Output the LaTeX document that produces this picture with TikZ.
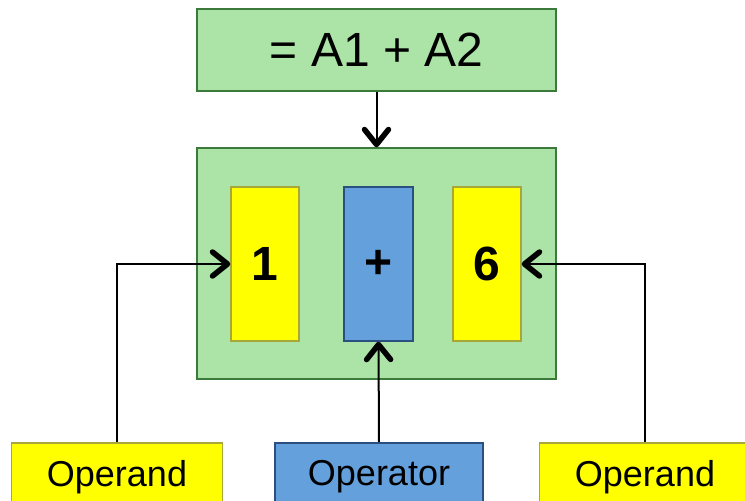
\documentclass[tikz,border=0pt]{standalone}
\usepackage{fontspec}
\setmainfont{Liberation Sans}
\usetikzlibrary{arrows.meta}
\definecolor{gfill}{HTML}{ACE3A6}
\definecolor{gline}{HTML}{3C7A3C}
\definecolor{yfill}{HTML}{FFFF00}
\definecolor{yline}{HTML}{A8A838}
\definecolor{bfill}{HTML}{64A0DC}
\definecolor{bline}{HTML}{2A4F80}
\tikzset{
  greenbox/.style={draw=gline, fill=gfill, line width=1.5pt, inner sep=0pt},
  yellowbox/.style={draw=yline, fill=yfill, line width=1.5pt, inner sep=0pt},
  bluebox/.style={draw=bline, fill=bfill, line width=1.5pt, inner sep=0pt},
  cell/.style={minimum width=68pt, minimum height=154pt, font=\fontsize{48}{48}\selectfont\bfseries},
  label/.style={minimum width=211pt, minimum height=68pt, font=\fontsize{36}{36}\selectfont},
  conn/.style={line width=2pt, -{Straight Barb[length=15pt, width=24pt, line width=5.5pt, round]}}
}
\begin{document}
\begin{tikzpicture}[x=1pt, y=-1pt]
\clip (0,0) rectangle (745,501);
\useasboundingbox (0,0) rectangle (745,501);
\fill[white] (0,0) rectangle (745,501);
\node[greenbox, minimum width=359pt, minimum height=82pt, font=\fontsize{48}{48}\selectfont] (top) at (376.5,50) {= A1 + A2};
\node[greenbox, minimum width=359pt, minimum height=231pt] (big) at (376.5,263.5) {};
\node[yellowbox, cell] (y1) at (265,264) {1};
\node[bluebox, cell, minimum width=69pt] (op) at (378.5,264) {+};
\node[yellowbox, cell] (y2) at (487,264) {6};
\node[yellowbox, label, anchor=north] (bl) at (117,442) {Operand};
\node[bluebox, label, minimum width=208pt, anchor=north] (bo) at (379,442) {Operator};
\node[yellowbox, label, anchor=north] (br) at (645,442) {Operand};
\draw[conn] (top.south) -- (big.north);
\draw[conn] (bl.north) |- (y1.west);
\draw[conn] (br.north) |- (y2.east);
\draw[conn] (bo.north) -- (op.south);
\end{tikzpicture}
\end{document}
